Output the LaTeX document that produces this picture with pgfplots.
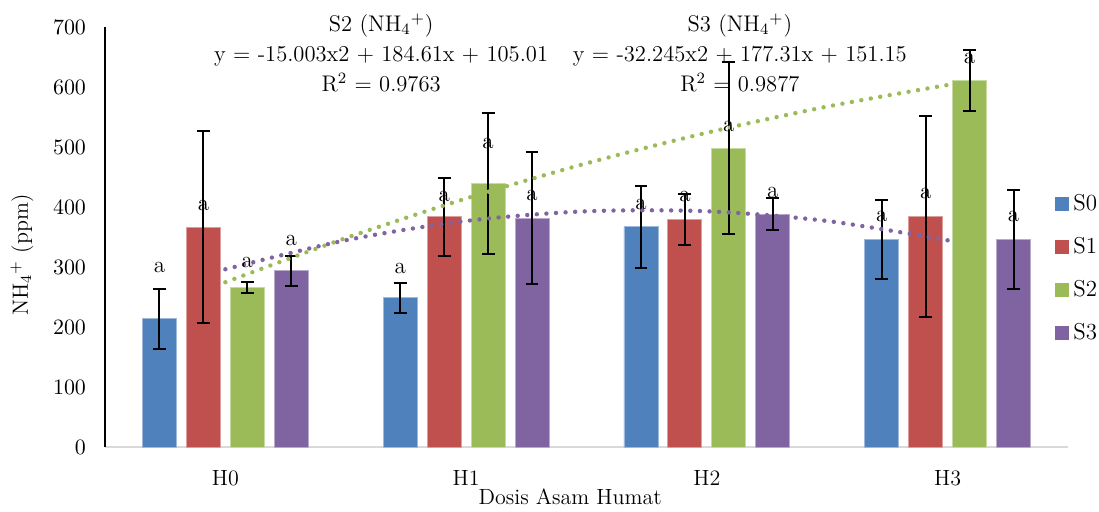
\documentclass[border=0pt]{standalone}
\usepackage{pgfplots}
\pgfplotsset{compat=1.18}
\usepackage{pgfplotstable}
\definecolor{cS0}{HTML}{4F81BD}
\definecolor{cS1}{HTML}{C0504D}
\definecolor{cS2}{HTML}{9BBB59}
\definecolor{cS3}{HTML}{8064A2}
\pgfplotstableread{
x y e
0 214 50
1 249 25
2 367 68
3 346 66
}\tSzero
\pgfplotstableread{
x y e
0 366 160
1 384 65
2 379 42
3 384 167
}\tSone
\pgfplotstableread{
x y e
0 266 9
1 439 117
2 498 143
3 611 51
}\tStwo
\pgfplotstableread{
x y e
0 294 25
1 381 110
2 388 27
3 346 83
}\tSthree
\begin{document}
\begin{tikzpicture}
\useasboundingbox (0,0) rectangle (549.5pt,255.5pt);
\begin{axis}[
  at={(52.5pt,32pt)}, anchor=south west,
  scale only axis, width=481.5pt, height=210pt,
  xmin=-0.5, xmax=3.5, ymin=0, ymax=700,
  clip=false,
  axis x line*=bottom, axis y line*=left,
  x axis line style={draw=black!15, line width=1.1pt},
  y axis line style={draw=black, line width=0.9pt},
  major tick length=0pt,
  xtick={0,1,2,3}, xticklabels={H0,H1,H2,H3},
  ytick={0,100,...,700},
  tick label style={font=\fontsize{11}{13}\selectfont},
  xticklabel style={yshift=-8pt},
  yticklabel style={xshift=-6pt},
  xlabel={Dosis Asam Humat},
  xlabel style={at={(axis description cs:0.483,0)}, anchor=center, yshift=-25pt, font=\fontsize{11}{13}\selectfont},
  ylabel={NH\textsubscript{4}\textsuperscript{+} (ppm)},
  ylabel style={at={(axis description cs:-0.0862,0.457)}, anchor=center, font=\fontsize{11}{13}\selectfont},
  legend style={at={(axis description cs:0.9865,0.425)}, anchor=west, draw=none, fill=none,
    font=\fontsize{11.5}{13}\selectfont, row sep=7.8pt, inner sep=0pt},
  legend cell align=left,
  legend image code/.code={\fill[#1,draw=none] (0pt,-3.5pt) rectangle (7pt,3.5pt);},
  error bars/error bar style={black, line width=1pt},
  error bars/error mark options={rotate=90, black, mark size=3.2pt, line width=1pt},
]
\addplot[ybar, bar width=17pt, bar shift=0pt, fill=cS0, draw=cS0!55!white, line width=0.4pt,
  error bars/.cd, y dir=both, y explicit] table[x expr=\thisrow{x}-0.274, y=y, y error=e] {\tSzero};
\addplot[ybar, bar width=17pt, bar shift=0pt, fill=cS1, draw=cS1!55!white, line width=0.4pt,
  error bars/.cd, y dir=both, y explicit] table[x expr=\thisrow{x}-0.0913, y=y, y error=e] {\tSone};
\addplot[ybar, bar width=17pt, bar shift=0pt, fill=cS2, draw=cS2!55!white, line width=0.4pt,
  error bars/.cd, y dir=both, y explicit] table[x expr=\thisrow{x}+0.0913, y=y, y error=e] {\tStwo};
\addplot[ybar, bar width=17pt, bar shift=0pt, fill=cS3, draw=cS3!55!white, line width=0.4pt,
  error bars/.cd, y dir=both, y explicit] table[x expr=\thisrow{x}+0.274, y=y, y error=e] {\tSthree};
\legend{S0,S1,S2,S3}
% trendlines (polynomial, from the displayed equations)
\addplot[cS2, line width=2.2pt, dash pattern=on 0pt off 4.8pt, line cap=round, smooth, mark=none]
  coordinates {(0,274.6) (0.5,348.2) (1,414.2) (1.5,472.8) (2,523.8) (2.5,567.4) (3,603.4)};
\addplot[cS3, line width=2.2pt, dash pattern=on 0pt off 4.8pt, line cap=round, smooth, mark=none]
  coordinates {(0,296.2) (0.5,344.6) (1,376.8) (1.5,392.9) (2,392.9) (2.5,376.7) (3,344.5)};
% letter labels
\addplot[only marks, mark=text, text mark={a}, text mark as node=true,
  mark options={black, draw=none, fill=none},
  text mark style={font=\fontsize{11.5}{13}\selectfont, text=black, inner sep=0pt, anchor=center}]
  coordinates {
  (-0.274,299) (0.726,298) (1.726,404) (2.726,385)
  (-0.091,403) (0.909,417) (1.909,417) (2.909,423)
  (0.091,307) (1.091,506) (2.091,534) (3.091,648)
  (0.274,345) (1.274,419) (2.274,424) (3.274,384)};
\node[align=center, font=\fontsize{11.3}{15}\selectfont] at (axis cs:0.647,657)
  {S2 (NH\textsubscript{4}\textsuperscript{+})\\ y = -15.003x2 + 184.61x + 105.01\\ R\textsuperscript{2} = 0.9763};
\node[align=center, font=\fontsize{11.3}{15}\selectfont] at (axis cs:2.137,657)
  {S3 (NH\textsubscript{4}\textsuperscript{+})\\ y = -32.245x2 + 177.31x + 151.15\\ R\textsuperscript{2} = 0.9877};
\end{axis}
\end{tikzpicture}
\end{document}
